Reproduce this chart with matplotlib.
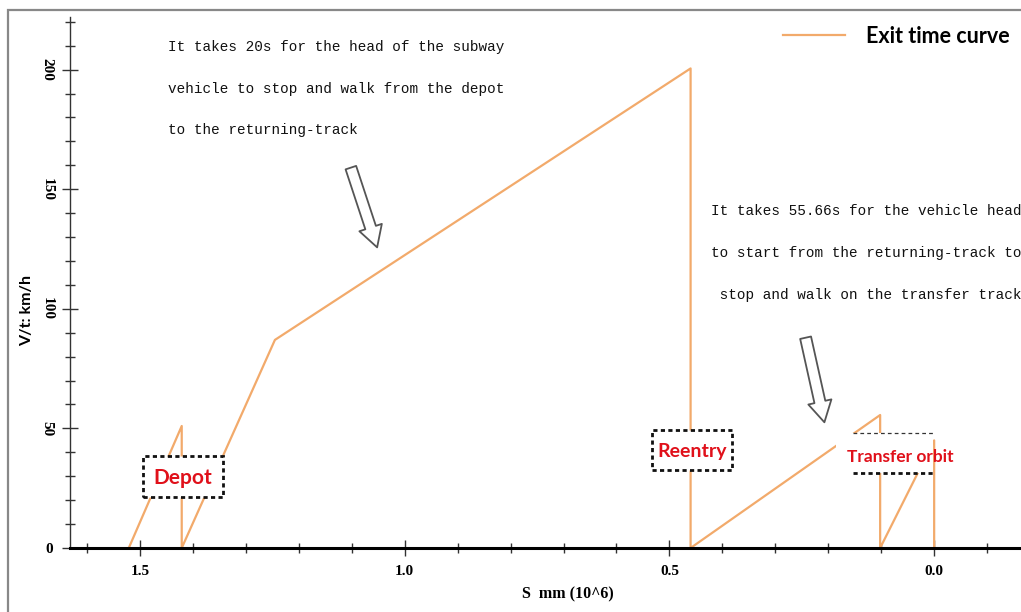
import numpy as np
import matplotlib
matplotlib.use("Agg")
import matplotlib.pyplot as plt
from matplotlib.patches import Rectangle, FancyArrowPatch
from matplotlib.lines import Line2D

# exit time curve (x in 10^6 mm, y in km/h)
s_pos = [1.521, 1.421, 1.421, 1.245, 0.460, 0.460, 0.102, 0.102, 0.0, 0.0]
speed = [0, 51, 0, 87, 200.5, 0, 55.6, 0, 45, 0]

x_ticks = [1.5, 1.0, 0.5, 0.0]
x_labels = ["1.5", "1.0", "0.5", "0.0"]
y_ticks = [0, 50, 100, 150, 200]
y_labels = ["0", "50", "100", "150", "200"]

note1 = ["It takes 20s for the head of the subway",
         "vehicle to stop and walk from the depot",
         "to the returning-track"]
note2 = ["It takes 55.66s for the vehicle head",
         "to start from the returning-track to",
         " stop and walk on the transfer track"]

W, H = 1021, 612
fig = plt.figure(figsize=(W / 100, H / 100), dpi=100)
ax = fig.add_axes([70 / W, 64 / H, (W - 70) / W, (548 - 17) / H])

def fx(px):
    return px / W

def fy(py):
    return 1 - py / H

orange = '#F2AA6B'
red = '#E0101A'

ax.plot(s_pos, speed, color=orange, lw=1.6, label='Exit time curve', zorder=2)

ax.set_xlim(1.632, -0.164)
ax.set_ylim(0, 222)

ax.spines['top'].set_visible(False)
ax.spines['right'].set_visible(False)
ax.spines['bottom'].set_linewidth(2.2)
ax.spines['left'].set_linewidth(1.0)
ax.spines['left'].set_color('#333333')

ax.set_xticks(x_ticks)
ax.set_xticks(np.arange(-0.1, 1.65, 0.1), minor=True)
ax.set_xticklabels(x_labels, family='Liberation Serif', fontsize=11, weight='bold')
ax.set_yticks(y_ticks)
ax.set_yticks(np.arange(0, 221, 10), minor=True)
ax.set_yticklabels(y_labels, family='Liberation Serif', fontsize=11, weight='bold')
for lab in ax.get_yticklabels():
    if lab.get_text() != '0':
        lab.set_rotation(-90)
        lab.set_va('center')
ax.tick_params(which='major', direction='inout', length=12, width=1, color='#333333')
ax.tick_params(which='minor', direction='inout', length=7, width=1, color='#333333')
ax.tick_params(axis='x', pad=6)
ax.tick_params(axis='y', pad=6)

ax.set_xlabel('S  mm (10^6)', family='Liberation Serif', fontsize=11.5, weight='bold')
ax.xaxis.set_label_coords((568 - 70) / (W - 70), -(586 - 548) / 531)
ax.set_ylabel('V/t: km/h', family='Lato', fontsize=11.5, weight='bold')
ax.yaxis.set_label_coords(-(70 - 34) / (W - 70), (548 - 310) / 531)

ax.legend(loc='upper left', bbox_to_anchor=(fx(783), fy(26)), bbox_transform=fig.transFigure,
          frameon=False, borderpad=0, borderaxespad=0, handlelength=2.9, handletextpad=0.95,
          prop={'family': 'Lato', 'weight': 'bold', 'size': 15.5})

# notes
for i, line in enumerate(note1):
    fig.text(fx(168), fy(47 + 41.5 * i), line, family='Liberation Mono', fontsize=10.4,
             va='center', ha='left', color='#111111')
for i, line in enumerate(note2):
    fig.text(fx(711), fy(211 + 42 * i), line, family='Liberation Mono', fontsize=10.4,
             va='center', ha='left', color='#111111')

# hollow arrows
for (x0, y0, x1, y1) in [(350, 165, 378, 250), (805, 335, 825, 425)]:
    arr = FancyArrowPatch((fx(x0), fy(y0)), (fx(x1), fy(y1)), transform=fig.transFigure,
                          arrowstyle='simple,head_length=15,head_width=17,tail_width=8',
                          fc='white', ec='#555555', lw=1.3, zorder=5)
    fig.patches.append(arr)

# labelled boxes
def box(x0, y0, x1, y1, text, size):
    r = Rectangle((fx(x0), fy(y1)), fx(x1) - fx(x0), fy(y0) - fy(y1), transform=fig.transFigure,
                  fc='white', ec='#111111', lw=2, ls=(0, (1.5, 1.2)), zorder=6)
    fig.patches.append(r)
    fig.text(fx((x0 + x1) / 2), fy((y0 + y1) / 2 + 1), text, color=red, family='Lato',
             weight='bold', fontsize=size, ha='center', va='center', zorder=7)

box(143, 456, 223, 497, 'Depot', 15)
box(652, 430, 732, 470, 'Reentry', 14)

# transfer orbit label
fig.patches.append(Rectangle((fx(836), fy(473)), fx(933) - fx(836), fy(433) - fy(473),
                             transform=fig.transFigure, fc='white', ec='none', zorder=6))
fig.add_artist(Line2D([fx(853), fx(933)], [fy(433), fy(433)], color='#333333', lw=0.9,
                      ls=(0, (3, 2.5)), zorder=7))
fig.add_artist(Line2D([fx(853), fx(933)], [fy(473), fy(473)], color='#111111', lw=2,
                      ls=(0, (1.5, 1.2)), zorder=7))
fig.text(fx(900), fy(457), 'Transfer orbit', color=red, family='Lato', weight='bold',
         fontsize=12.5, ha='center', va='center', zorder=8)

# outer frame
fig.patches.append(Rectangle((fx(8), -0.05), 1.1, fy(10) + 0.05, transform=fig.transFigure,
                             fc='none', ec='#888888', lw=1.6, zorder=10))

fig.savefig('out.png', dpi=100)
